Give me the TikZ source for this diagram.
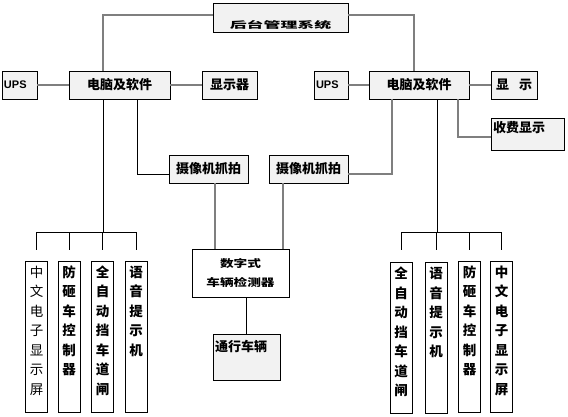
\documentclass[tikz,border=0pt]{standalone}
\usepackage{fontspec}
\setmainfont{Noto Sans CJK SC}
\newfontfamily\latinfont{Liberation Sans}
\usepackage{graphicx}
\definecolor{boxgray}{HTML}{F2F2F2}
\definecolor{wiregray}{HTML}{7F7F7F}

\begin{document}
\begin{tikzpicture}[x=1pt,y=-1pt,
	box/.style={draw=black,fill=boxgray,line width=0.8pt,inner sep=0pt,font=\fontsize{13}{15}\selectfont\bfseries},
	wbox/.style={box,fill=white},
	colbox/.style={draw=black,fill=white,line width=0.8pt,inner sep=0pt,minimum width=22pt,minimum height=151pt},
	coltext/.style={anchor=north,align=center,inner sep=0pt},
	wire/.style={draw=wiregray,line width=1.5pt},
	bus/.style={draw=black,line width=0.9pt}]
	\useasboundingbox (0,0) rectangle (568,417);
%	top
	\node[box,minimum width=135pt,minimum height=29pt] (mgmt) at (280.5,17.5) {\raisebox{-11pt}[0pt][0pt]{\scalebox{1.3}[0.7]{后台管理系统}}};
%	left side
	\node[box,minimum width=35pt,minimum height=28pt] (upsL) at (19.5,85) {\makebox[31pt][l]{\latinfont\bfseries\fontsize{11}{13}\selectfont UPS}};
	\node[box,minimum width=101pt,minimum height=28pt] (pcL) at (119.5,85) {电脑及软件};
	\node[box,minimum width=55pt,minimum height=28pt] (dispL) at (229.5,85) {显示器};
	\node[box,minimum width=79pt,minimum height=28pt] (camL) at (208.5,169) {摄像机抓拍};
%	right side
	\node[box,minimum width=34pt,minimum height=28pt] (upsR) at (331,85) {\makebox[30pt][l]{\latinfont\bfseries\fontsize{11}{13}\selectfont UPS}};
	\node[box,minimum width=100pt,minimum height=28pt] (pcR) at (419,85) {电脑及软件};
	\node[box,minimum width=46pt,minimum height=28pt] (dispR) at (514,85) {显\hspace{10pt}示};
	\node[box,minimum width=73pt,minimum height=32pt] (fee) at (527.5,134) {\raisebox{1pt}[0pt][0pt]{\makebox[69pt][l]{收费显示}}};
	\node[box,minimum width=79pt,minimum height=28pt] (camR) at (308.5,169) {摄像机抓拍};
%	middle
	\node[wbox,minimum width=97pt,minimum height=48pt,align=center,font=\fontsize{13}{19}\selectfont\bfseries] (det) at (240.5,273) {\scalebox{1.05}[0.8]{数字式}\\\scalebox{1.05}[0.8]{车辆检测器}};
	\node[box,minimum width=67pt,minimum height=46pt] (car) at (246.5,357) {\raisebox{6pt}[0pt][0pt]{\makebox[63pt][l]{通行车辆}}};

	\coordinate (busL) at (103,232);
	\coordinate (busR) at (437,232);

%	columns
	\foreach \n/\x/\y/\w/\t in {
		L1/36.5/336.5/\mdseries/{中\\文\\电\\子\\显\\示\\屏},
		L2/69/336.5/\bfseries/{防\\砸\\车\\控\\制\\器},
		L3/102.5/336.5/\bfseries/{全\\自\\动\\挡\\车\\道\\闸},
		L4/136/336.5/\bfseries/{语\\音\\提\\示\\机},
		R1/401/338/\bfseries/{全\\自\\动\\挡\\车\\道\\闸},
		R2/436/338/\bfseries/{语\\音\\提\\示\\机},
		R3/469.5/336.5/\bfseries/{防\\砸\\车\\控\\制\\器},
		R4/501.5/336.5/\bfseries/{中\\文\\电\\子\\显\\示\\屏}}
	{
		\node[colbox] (col\n) at (\x,\y) {};
		\node[coltext,font=\fontsize{13.5}{19.5}\selectfont\w] (txt\n) at ([yshift=-5pt]col\n.north) {\t};
	}

%	connectors
	\draw[wire] ([yshift=2.5pt]mgmt.west) -| (busL |- pcL.north);
	\draw[wire] ([yshift=2.5pt]mgmt.east) -| ([xshift=-5pt]pcR.north);
	\draw[wire] (upsL) -- (pcL);
	\draw[wire] (pcL) -- (dispL);
	\draw[wire] (upsR) -- (pcR);
	\draw[wire] (pcR) -- (dispR);
	\draw[bus] ([xshift=17.5pt]pcL.south) |- ([yshift=-5pt]camL.west);
	\draw[wire] ([yshift=-5pt]camR.east) -| ([xshift=-27pt]pcR.south);
	\draw[wire] ([xshift=39pt]pcR.south) |- ([yshift=-3pt]fee.west);
	\draw[wire] ([xshift=6.5pt]camL.south) -- ([xshift=-25.5pt]det.north);
	\draw[wire] ([xshift=-25.5pt]camR.south) -- ([xshift=42.5pt]det.north);
	\draw[bus] (det.south -| car.north) -- (car.north);

%	brackets
	\draw[bus] (busL |- pcL.south) -- (busL);
	\draw[bus] (busR |- pcR.south) -- (busR);
	\draw[bus] (colL1.north |- busL) -- (colL4.north |- busL);
	\draw[bus] (colR1.north |- busR) -- (colR4.north |- busR);
	\foreach \n in {L1,L2,L3,L4}
		\draw[bus] (col\n.north |- busL) -- ([yshift=11pt]col\n.north);
	\foreach \n in {R1,R2,R3,R4}
		\draw[bus] (col\n.north |- busR) -- ([yshift=11pt]colR3.north -| col\n.north);
\end{tikzpicture}
\end{document}
